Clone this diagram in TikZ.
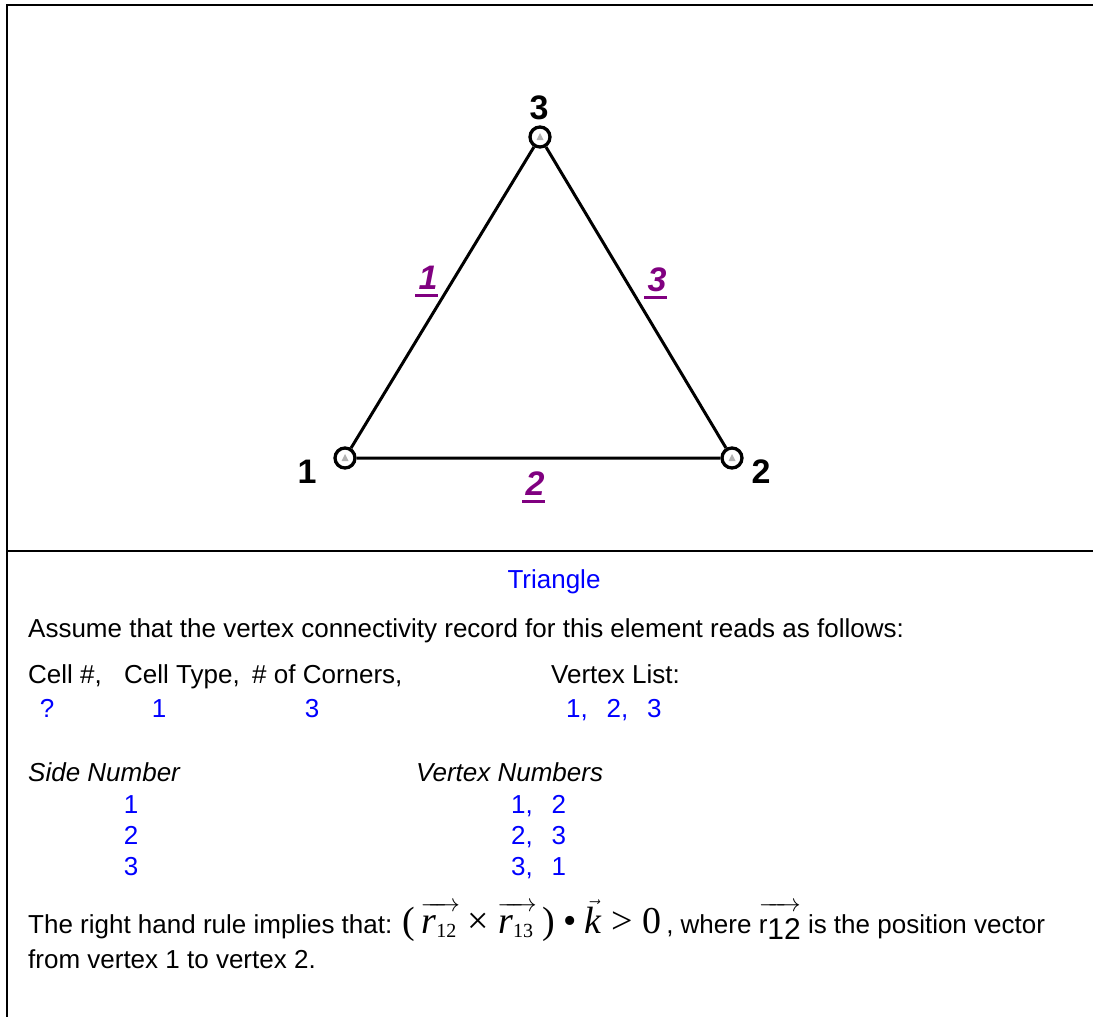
\documentclass[tikz,border=0pt]{standalone}
\usepackage{amsmath}
\usepackage{fontspec}
\setmainfont{Liberation Sans}
\newfontfamily\eqser{Liberation Serif}
\usepackage{xcolor}
\usetikzlibrary{calc,positioning}
\definecolor{sidepurple}{RGB}{128,0,128}
\definecolor{valblue}{RGB}{0,0,255}
% vector r with a subscript, serif
\newcommand{\vecr}[1]{$\overrightarrow{\vphantom{\big(}\kern1pt\hbox{\itshape r}_{\hbox{\fontsize{20}{20}\selectfont #1}}\kern3pt}$}
\newcommand{\gap}{\hspace{0.72em}}
\begin{document}
\begin{tikzpicture}[x=1pt,y=-1pt,
  vtx/.style={circle, draw, line width=3.3pt, minimum size=20pt, inner sep=0pt},
  vnum/.style={font=\fontsize{34}{40}\selectfont\bfseries, inner sep=0pt, anchor=base},
  sidenum/.style={font=\fontsize{34}{40}\selectfont\bfseries\itshape, text=sidepurple, inner sep=0pt, anchor=base},
  body/.style={font=\fontsize{26}{31}\selectfont, inner sep=0pt, anchor=base west},
  val/.style={body, text=valblue},
  valc/.style={val, anchor=base}]
\useasboundingbox (0,0) rectangle (1093,1017);
% frame
\draw[line width=2.4pt] (1093,5) -- (7,5) -- (7,1017);
\draw[line width=2pt] (7,551) -- (1093,551);
% element
\node[vtx] (v1) at (345,458) {};
\node[vtx] (v2) at (732,458) {};
\node[vtx] (v3) at (540,137) {};
\draw[line width=3pt] (v1) -- (v2) (v2) -- (v3) (v3) -- (v1);
\foreach \v in {v1,v2,v3}
  \fill[gray!60] ($(\v)+(-3.5,3)$) -- ($(\v)+(0,-4)$) -- ($(\v)+(3.5,3)$) -- cycle;
\node[vnum] (n1) at (307,483) {1};
\node[vnum] (n2) at (761,483) {2};
\node[vnum] (n3) at (539,119) {3};
\node[sidenum] (s1) at (428,289) {1};
\node[sidenum] (s2) at (535,495) {2};
\node[sidenum] (s3) at (657,291) {3};
\foreach \s in {s1,s2,s3}
  \draw[line width=3pt, sidepurple] ($(\s.base west)+(-3,6)$) -- ($(\s.base east)+(0,6)$);
% record
\node[val, anchor=base] (ttl) at (554,588) {Triangle};
\node[body] (assume) at (28,637) {Assume that the vertex connectivity record for this element reads as follows:};
\node[body] (hcell) at (28,683) {Cell \#,};
\node[body] (htype) at (124,683) {Cell Type,};
\node[body] (hcorn) at (252,683) {\# of Corners,};
\node[body] (hlist) at (551,683) {Vertex List:};
\node[valc] (cell) at (47,717) {?};
\node[valc] (type) at (159,717) {1};
\node[valc] (corn) at (312,717) {3};
\node[val] (list) at (566,717) {1,\gap2,\gap3};
% sides
\node[body, font=\fontsize{26}{31}\selectfont\itshape] (hside) at (28,781) {Side Number};
\node[body, font=\fontsize{26}{31}\selectfont\itshape] (hvnum) at (416,781) {Vertex Numbers};
\foreach \i/\p/\y in {1/{1,\gap2}/813, 2/{2,\gap3}/844, 3/{3,\gap1}/875} {
  \node[valc] (side\i) at (131,\y) {\i};
  \node[val] (pair\i) at (511,\y) {\p};
}
\node[body] (rhr) at (28,933) {The right hand rule implies that:
  {\eqser\fontsize{38}{42}\selectfont (\hspace{6pt}\vecr{12}\hspace{8pt}×\hspace{8pt}\vecr{13}\hspace{6pt})\hspace{8pt}•\hspace{8pt}$\vec{\hbox{\itshape k}}$\hspace{10pt}>\hspace{10pt}0}\,, where
  $\overrightarrow{\vphantom{\big(}\hbox{r\lower6pt\hbox{\fontsize{30}{30}\selectfont 12}}}$ is the position vector};
\node[body] (rhr2) at (28,968) {from vertex 1 to vertex 2.};
\end{tikzpicture}
\end{document}
